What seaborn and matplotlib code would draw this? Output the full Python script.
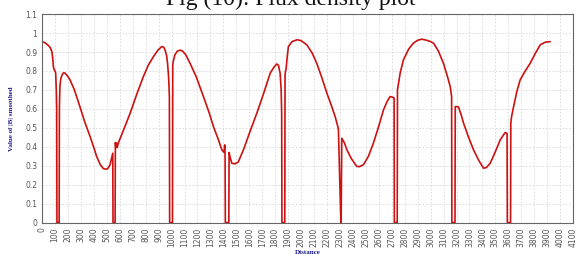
import matplotlib
matplotlib.use("Agg")
import matplotlib.pyplot as plt
import seaborn as sns
import pandas as pd
import numpy as np

# Distance along path and smoothed |B| values
distance = [0, 20, 40, 62, 75, 82, 88, 92, 100, 105, 110, 113, 115, 132, 134, 138, 145, 155, 165, 175,
            195, 216, 250, 293, 330, 371, 400, 422, 450, 473, 490, 505, 525, 546, 548, 564, 566, 570, 575, 580,
            589, 630, 680, 730, 782, 820, 860, 895, 924, 940, 950, 962, 969, 977, 983, 985, 1007, 1009,
            1013, 1025, 1045, 1066, 1085, 1110, 1143, 1190, 1246, 1290, 1323, 1360, 1388, 1405, 1410, 1413,
            1415, 1442, 1444, 1452, 1465, 1490, 1515, 1555, 1600, 1658, 1710, 1761, 1790, 1812, 1825, 1838,
            1846, 1850, 1852, 1874, 1876, 1880, 1884, 1892, 1902, 1930, 1970, 2000, 2044, 2085, 2121, 2160,
            2199, 2235, 2263, 2286, 2288, 2307, 2309, 2314, 2335, 2353, 2390, 2430, 2450, 2481, 2520, 2558,
            2600, 2636, 2665, 2687, 2713, 2718, 2720, 2742, 2744, 2765, 2790, 2830, 2867, 2900, 2932, 2970,
            3000, 3022, 3060, 3099, 3130, 3151, 3162, 3164, 3188, 3190, 3200, 3215, 3235, 3254, 3290, 3331,
            3370, 3408, 3430, 3460, 3500, 3537, 3560, 3575, 3590, 3592, 3617, 3619, 3625, 3640, 3665, 3691,
            3730, 3768, 3810, 3846, 3885, 3923]
flux = [0.955, 0.95, 0.94, 0.925, 0.905, 0.87, 0.82, 0.81, 0.80, 0.79, 0.70, 0.61, 0.0, 0.0, 0.61, 0.72,
        0.76, 0.78, 0.79, 0.79, 0.775, 0.753, 0.70, 0.61, 0.53, 0.454, 0.395, 0.348, 0.305, 0.285, 0.282,
        0.283, 0.305, 0.366, 0.0, 0.0, 0.422, 0.40, 0.42, 0.395, 0.42, 0.49, 0.577, 0.675, 0.77, 0.83,
        0.876, 0.91, 0.929, 0.925, 0.91, 0.88, 0.84, 0.77, 0.665, 0.0, 0.0, 0.83, 0.85, 0.885, 0.905, 0.91,
        0.905, 0.885, 0.84, 0.77, 0.665, 0.58, 0.507, 0.44, 0.384, 0.37, 0.41, 0.366, 0.0, 0.0, 0.37, 0.345,
        0.313, 0.31, 0.32, 0.384, 0.47, 0.577, 0.68, 0.788, 0.82, 0.837, 0.83, 0.788, 0.70, 0.577, 0.0, 0.0,
        0.78, 0.80, 0.81, 0.87, 0.929, 0.955, 0.965, 0.96, 0.938, 0.895, 0.84, 0.765, 0.683, 0.615, 0.559,
        0.50, 0.489, 0.0, 0.0, 0.445, 0.42, 0.384, 0.335, 0.296, 0.295, 0.305, 0.35, 0.419, 0.51, 0.595,
        0.64, 0.665, 0.66, 0.657, 0.0, 0.0, 0.70, 0.79, 0.859, 0.915, 0.947, 0.962, 0.968, 0.962, 0.955,
        0.947, 0.905, 0.84, 0.77, 0.718, 0.665, 0.0, 0.0, 0.612, 0.612, 0.61, 0.57, 0.525, 0.455, 0.384,
        0.33, 0.287, 0.29, 0.313, 0.375, 0.436, 0.46, 0.475, 0.47, 0.0, 0.0, 0.525, 0.56, 0.61, 0.69, 0.753,
        0.80, 0.84, 0.895, 0.938, 0.952, 0.955]

x_ticks = list(range(0, 4101, 100))
y_ticks = [0, 0.1, 0.2, 0.3, 0.4, 0.5, 0.6, 0.7, 0.8, 0.9, 1.0, 1.1]
y_tick_labels = ["0", "0.1", "0.2", "0.3", "0.4", "0.5", "0.6", "0.7", "0.8", "0.9", "1", "1.1"]

sns.set_style("white")
df = pd.DataFrame({"Distance": distance, "Flux": flux})

fig = plt.figure(figsize=(5.76, 2.57), dpi=100)
ax = fig.add_axes([0.073, 0.134, 0.922, 0.811])
sns.lineplot(data=df, x="Distance", y="Flux", ax=ax, color="#cc1111", linewidth=1.2, sort=False,
             estimator=None)

ax.set_xlim(0, 4100)
ax.set_ylim(0, 1.1)
ax.set_xticks(x_ticks)
ax.set_xticklabels([str(t) for t in x_ticks], rotation=90, fontsize=5.5, color="#555555")
ax.set_yticks(y_ticks)
ax.set_yticklabels(y_tick_labels, fontsize=5.5, color="#555555")
ax.tick_params(axis="both", length=2, width=0.6, color="#666666", pad=1.5, direction="out")
ax.grid(True, color="#d8d8d8", linestyle=(0, (2, 2)), linewidth=0.6)
for s in ax.spines.values():
    s.set_color("#666666")
    s.set_linewidth(0.8)

ax.set_xlabel("Distance", fontsize=5, fontweight="bold", color="#1a1a8a", family="Liberation Serif",
              labelpad=2)
ax.set_ylabel("Value of |B| smoothed", fontsize=5, fontweight="bold", color="#1a1a8a",
              family="Liberation Serif", labelpad=8)

fig.text(0.505, 1 - 5 / 257, "Fig (10): Flux density plot", ha="center", va="baseline",
         fontsize=17, family="Liberation Serif", color="#111111")

fig.savefig("out.png", dpi=100)
